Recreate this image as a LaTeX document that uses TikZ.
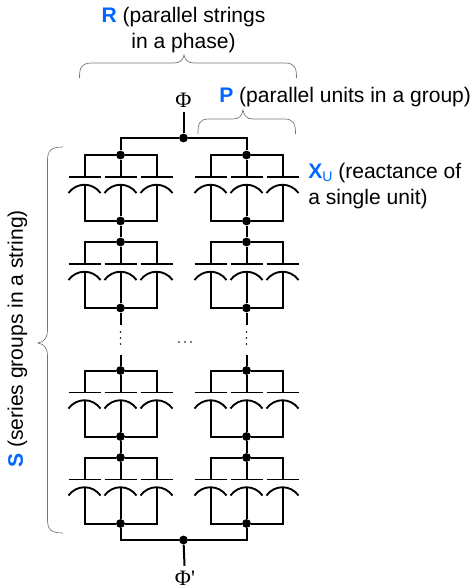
\documentclass[tikz,border=0pt]{standalone}
\usepackage{fontspec}
\setmainfont{Liberation Sans}
\newfontfamily\phifont{Liberation Serif}
\definecolor{keyblue}{RGB}{0,102,255}
\tikzset{
  wire/.style={line width=1.5pt},
  jdot/.style={circle,fill=black,inner sep=0pt,minimum size=6.6pt},
  plate/.style={line width=1.4pt},
  bracket/.style={line width=0.5pt,draw=black!55},
  lbl/.style={inner sep=0pt,align=left,font=\fontsize{15.8}{19.5}\selectfont},
  rotlbl/.style={inner sep=0pt,rotate=90,font=\fontsize{15.8}{19.5}\selectfont},
  philbl/.style={inner sep=0pt,minimum height=18pt,font=\fontsize{16.5}{16.5}\phifont}
}
\newcommand{\keyl}[1]{\textcolor{keyblue}{\bfseries #1}}
\begin{document}
\begin{tikzpicture}[x=0.75pt,y=-0.75pt]
\useasboundingbox (0,0) rectangle (472,588);
% labels
\node[lbl,align=center] (rlbl) at (183.5,30) {\keyl{R} (parallel strings\\in a phase)};
\node[lbl,anchor=west] (plbl) at (219,97) {\keyl{P} (parallel units in a group)};
\node[lbl,anchor=north west] (xlbl) at (308,163) {\keyl{X}\textcolor{keyblue}{\raisebox{-2.5pt}{\fontsize{10.5}{10.5}\selectfont U}} (reactance of\\a single unit)};
\node[rotlbl] (slbl) at (17.5,339) {\keyl{S} (series groups in a string)};
\node[philbl] (phi) at (183.5,100) {Φ};
\node[philbl] (phip) at (185,578) {Φ'};
% brackets
\draw[bracket] (79.5,78) .. controls (79.5,68) and (81,63) .. (92,63) -- (174,63) .. controls (180,63) and (183,60) .. (184,55) .. controls (185,60) and (188,63) .. (194,63) -- (285,63) .. controls (295,63) and (296.5,68) .. (296.5,78);
\draw[bracket] (198,134) .. controls (198,124) and (199,119) .. (209,119) -- (233,119) .. controls (239,119) and (242,116) .. (243,110) .. controls (244,116) and (247,119) .. (253,119) -- (284,119) .. controls (294,119) and (295.5,124) .. (295.5,134);
\draw[bracket] (63,147) .. controls (52,147) and (47.5,150) .. (47.5,160) -- (47.5,330) .. controls (47.5,338) and (44,342) .. (38,343) .. controls (44,344) and (47.5,348) .. (47.5,356) -- (47.5,520) .. controls (47.5,530) and (52,533) .. (63,533);
% groups of units
\foreach \c/\xc in {a/120.5,b/246.5}{
  \foreach \g/\yt in {1/155,2/242,3/370.5,4/457.5}{
    \node[jdot] (t\c\g) at (\xc,\yt) {};
    \node[jdot] (b\c\g) at (\xc,\yt+66) {};
    \draw[wire] (\xc-36,\yt+22) |- (t\c\g) -| (\xc+36,\yt+22);
    \draw[wire] (\xc-36,\yt+30) |- (b\c\g) -| (\xc+36,\yt+30);
    \draw[wire] (t\c\g) -- (\xc,\yt+22);
    \draw[wire] (\xc,\yt+30) -- (b\c\g);
    \foreach \u in {-36,0,36}{
      \draw[plate] (\xc+\u-16,\yt+22) -- (\xc+\u+16,\yt+22);
      \draw[plate] (\xc+\u-16,\yt+38) .. controls (\xc+\u-8,\yt+27) and (\xc+\u+8,\yt+27) .. (\xc+\u+16,\yt+38);
    }
  }
  \draw[wire] (b\c1) -- (t\c2);
  \draw[wire] (b\c3) -- (t\c4);
  \coordinate (u\c) at (\xc,325);
  \coordinate (l\c) at (\xc,355);
  \draw[wire] (b\c2) -- (u\c);
  \draw[wire] (l\c) -- (t\c3);
  \foreach \yd in {332,338,344}{
    \fill (\xc,\yd) circle (0.7pt);
  }
}
\foreach \xd in {179,185,191}{
  \fill (\xd,342) circle (0.7pt);
}
% buses
\node[jdot] (pj) at (183.5,138) {};
\node[jdot] (qj) at (183.5,540) {};
\draw[wire] (ta1) |- (pj) -| (tb1);
\draw[wire] (ba4) |- (qj) -| (bb4);
\draw[wire] (phi) -- (pj);
\draw[wire] (phip) -- (qj);
\end{tikzpicture}
\end{document}
